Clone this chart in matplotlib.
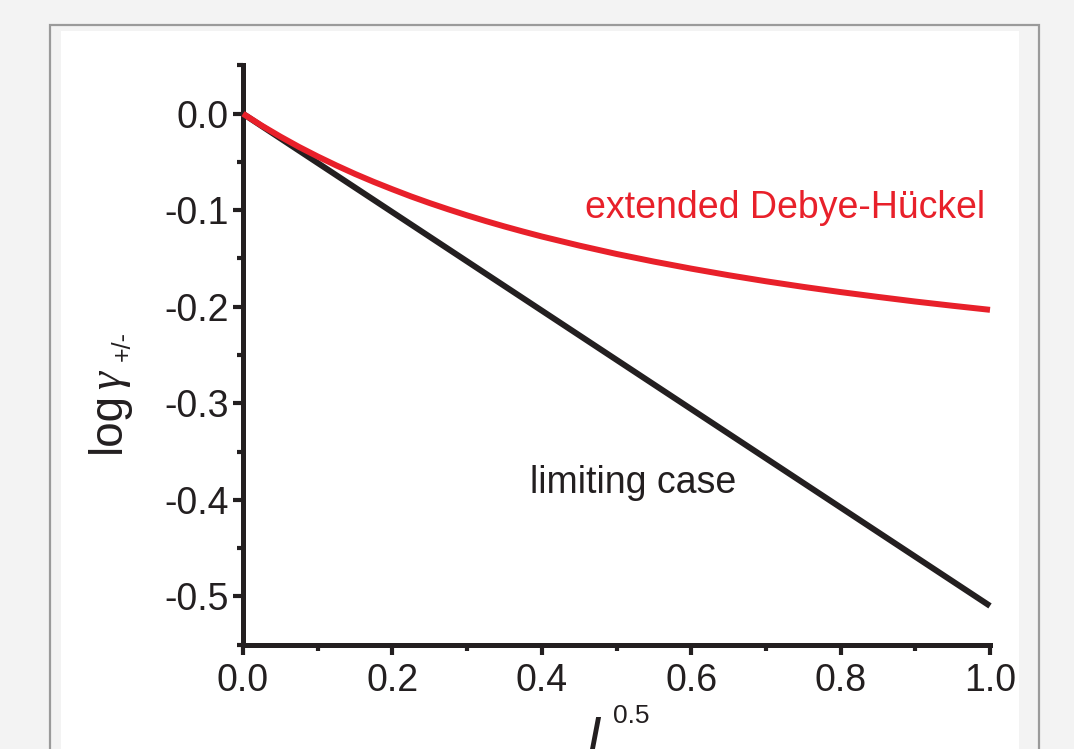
import matplotlib.pyplot as plt
from matplotlib.patches import Rectangle
from matplotlib.ticker import MultipleLocator

# values
sqrt_I = [0.0, 0.025, 0.05, 0.075, 0.1, 0.125, 0.15, 0.175, 0.2, 0.225,
          0.25, 0.275, 0.3, 0.325, 0.35, 0.375, 0.4, 0.45, 0.5, 0.55, 0.6,
          0.65, 0.7, 0.75, 0.8, 0.85, 0.9, 0.95, 1.0]
log_gamma_ext = [0.0, -0.0123, -0.0237, -0.0344, -0.0443, -0.0536, -0.0624,
                 -0.0706, -0.0783, -0.0857, -0.0926, -0.0991, -0.1053,
                 -0.1112, -0.1168, -0.1221, -0.1272, -0.1366, -0.1453,
                 -0.1532, -0.1605, -0.1673, -0.1736, -0.1794, -0.1848,
                 -0.1898, -0.1946, -0.1990, -0.2032]
sqrt_I_lim = [0.0, 1.0]
log_gamma_lim = [0.0, -0.51]

x_ticks = [0.0, 0.2, 0.4, 0.6, 0.8, 1.0]
y_ticks = [0.0, -0.1, -0.2, -0.3, -0.4, -0.5]

RED = '#e8202a'
INK = '#231f20'
W, H = 1074, 749

plt.rcParams['font.family'] = ['Liberation Sans', 'DejaVu Sans']

fig = plt.figure(figsize=(W / 100, H / 100), dpi=100, facecolor='#f3f3f3')


def fx(px):
    return px / W


def fy(py):
    return (H - py) / H


# panel frame behind the chart
fig.add_artist(Rectangle((fx(50), fy(800)), fx(989), (800 - 25) / H,
                         transform=fig.transFigure, facecolor='#f3f3f3',
                         edgecolor='#9a9a9a', lw=1.6, zorder=0))
fig.add_artist(Rectangle((fx(61), fy(800)), fx(958), (800 - 31) / H,
                         transform=fig.transFigure, facecolor='white',
                         edgecolor='none', zorder=0))

ax = fig.add_axes([fx(243), fy(645), fx(990 - 243), (645 - 65) / H])
ax.set_facecolor('none')

ax.plot(sqrt_I_lim, log_gamma_lim, color=INK, lw=4.3, solid_capstyle='butt',
        clip_on=False, zorder=3)
ax.plot(sqrt_I, log_gamma_ext, color=RED, lw=4.3, solid_capstyle='butt',
        solid_joinstyle='round', clip_on=False, zorder=4)

ax.set_xlim(0, 1.0)
ax.set_ylim(-0.5505, 0.0505)
ax.set_xticks(x_ticks)
ax.set_xticklabels([f'{v:.1f}' for v in x_ticks])
ax.set_yticks(y_ticks)
ax.set_yticklabels([f'{v:.1f}' for v in y_ticks])
ax.xaxis.set_minor_locator(MultipleLocator(0.1))
ax.yaxis.set_minor_locator(MultipleLocator(0.05))

for side in ['top', 'right']:
    ax.spines[side].set_visible(False)
for side in ['left', 'bottom']:
    ax.spines[side].set_linewidth(3.6)
    ax.spines[side].set_color(INK)
    ax.spines[side].set_capstyle('projecting')

ax.tick_params(which='major', direction='out', length=7, width=3, color=INK,
               labelsize=27, labelcolor=INK)
ax.tick_params(which='minor', direction='out', length=4, width=3, color=INK)
ax.tick_params(axis='x', which='major', pad=6)
ax.tick_params(axis='y', which='major', pad=3)

ax.text(0.993, -0.1076, 'extended Debye-Hückel', color=RED, fontsize=27,
        ha='right', va='baseline')
ax.text(0.384, -0.393, 'limiting case', color=INK, fontsize=27,
        ha='left', va='baseline')

# y label: log gamma_{+/-}
fig.text(fx(120), fy(453), 'log', rotation=90, rotation_mode='anchor',
         ha='left', va='baseline', fontsize=33, color=INK)
fig.text(fx(120), fy(389), 'γ', rotation=90, rotation_mode='anchor',
         ha='left', va='baseline', fontsize=33, color=INK,
         family=['Liberation Serif', 'DejaVu Serif'], style='italic')
fig.text(fx(130), fy(361), '+/-', rotation=90, rotation_mode='anchor',
         ha='left', va='baseline', fontsize=18, color=INK)

# x label: I^0.5, cut by the lower edge as in the source
fig.text(fx(594), fy(754), 'I', ha='center', va='baseline', fontsize=38,
         style='italic', color=INK)
fig.text(fx(613), fy(723), '0.5', ha='left', va='baseline', fontsize=19,
         color=INK)

fig.savefig('out.png', dpi=100, facecolor=fig.get_facecolor())
